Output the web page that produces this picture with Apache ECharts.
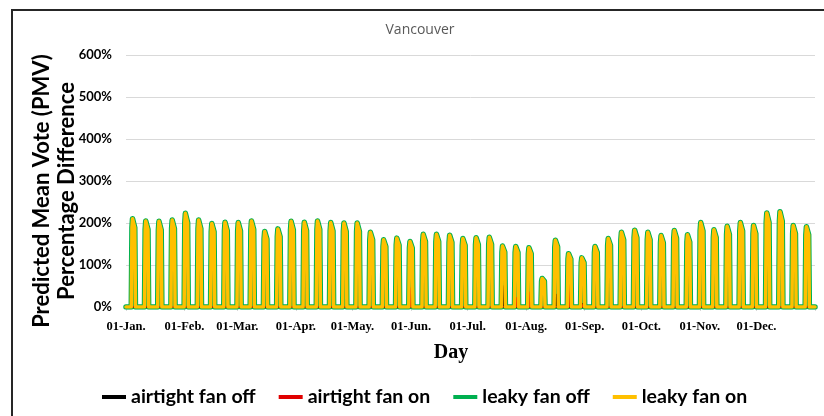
<!DOCTYPE html>
<html>
<head>
<meta charset="utf-8">
<script src="https://cdn.jsdelivr.net/npm/echarts@6/dist/echarts.min.js"></script>
<style>
  html, body { margin: 0; padding: 0; background: #fff; }
  #chart { width: 824px; height: 416px; }
</style>
</head>
<body>
<div id="chart"></div>
<script>
// Month tick labels and the day of year each month starts on
const monthLabels = ['01-Jan.', '01-Feb.', '01-Mar.', '01-Apr.', '01-May.', '01-Jun.',
                     '01-Jul.', '01-Aug.', '01-Sep.', '01-Oct.', '01-Nov.', '01-Dec.'];
const monthStartDays = [0, 31, 59, 90, 120, 151, 181, 212, 243, 273, 304, 334];
const yearDays = 365;

// Centre day of each weekly peak
const peakDays = [3.9, 10.9, 17.9, 24.9, 31.9, 38.9, 45.9, 52.9, 59.9, 66.9,
                  73.9, 80.9, 87.9, 94.9, 101.9, 108.9, 115.9, 122.9, 129.9, 136.9,
                  143.9, 150.9, 157.9, 164.9, 171.9, 178.9, 185.9, 192.9, 199.9, 206.9,
                  213.9, 220.9, 227.9, 234.9, 241.9, 248.9, 255.9, 262.9, 269.9, 276.9,
                  283.9, 290.9, 297.9, 304.9, 311.9, 318.9, 325.9, 332.9, 339.9, 346.9,
                  353.9, 360.9];

// Weekly peak PMV percentage difference (%) for each case
const leakyFanOn = [210, 205, 204, 207, 223, 207, 199, 202, 201, 205,
                    180, 186, 204, 202, 205, 201, 200, 200, 178, 160,
                    164, 156, 173, 173, 171, 163, 165, 166, 145, 144,
                    141, 68, 159, 127, 117, 144, 163, 178, 183, 178,
                    170, 182, 172, 201, 184, 192, 201, 194, 224, 227,
                    194, 191];
const leakyFanOff = [210, 205, 204, 207, 223, 207, 199, 202, 201, 205,
                     180, 186, 204, 202, 205, 201, 200, 200, 178, 160,
                     164, 156, 173, 173, 171, 163, 165, 166, 145, 144,
                     141, 68, 159, 127, 117, 144, 163, 178, 183, 178,
                     170, 182, 172, 201, 184, 192, 201, 194, 224, 227,
                     194, 191];
const airtightFanOn = [0, 0, 0, 0, 0, 0, 0, 0, 0, 0,
                       0, 0, 0, 0, 0, 0, 0, 0, 0, 0,
                       0, 45, 0, 0, 0, 0, 0, 0, 0, 22,
                       35, 0, 0, 55, 5, 0, 0, 0, 0, 0,
                       0, 0, 0, 0, 0, 0, 0, 0, 0, 0,
                       0, 0];
const airtightFanOff = [0, 0, 0, 0, 0, 0, 0, 0, 0, 0,
                        0, 0, 0, 0, 0, 0, 0, 0, 0, 0,
                        0, 20, 0, 0, 0, 0, 0, 0, 50, 0,
                        8, 0, 30, 10, 8, 0, 0, 0, 0, 0,
                        0, 0, 0, 0, 0, 0, 0, 0, 0, 0,
                        0, 0];

// Profile of one occupied-period peak: [day offset from centre, fraction of peak]
const wideProfile = [[-1.1, 0], [-0.75, 0.9], [-0.45, 1], [0.45, 1], [0.75, 0.9], [1.1, 0]];
const narrowProfile = [[-0.25, 0], [0, 1], [0.25, 0]];

function buildLine(peaks, profile) {
  const pts = [[0, 0]];
  peaks.forEach((h, i) => {
    const c = peakDays[i];
    profile.forEach(([dx, f]) => pts.push([c + dx, h * f]));
  });
  pts.push([yearDays, 0]);
  return pts;
}

const chart = echarts.init(document.getElementById('chart'), null, { renderer: 'canvas' });

const baseLine = (name, color, width, z, data) => ({
  name, type: 'line', data, z,
  showSymbol: false, symbol: 'none', smooth: false, animation: false,
  lineStyle: { color, width, join: 'round', cap: 'round' },
  itemStyle: { color },
  emphasis: { disabled: true }
});

chart.setOption({
  animation: false,
  backgroundColor: '#fff',
  grid: { left: 126, right: 9, top: 55, bottom: 109, containLabel: false },
  legend: {
    data: ['airtight fan off', 'airtight fan on', 'leaky fan off', 'leaky fan on'],
    left: 97, top: 382,
    icon: 'rect', itemWidth: 24, itemHeight: 4, itemGap: 23,
    textStyle: { fontFamily: 'Lato', fontWeight: 'bold', fontSize: 19.5, color: '#000' }
  },
  xAxis: {
    type: 'value', min: 0, max: yearDays,
    axisLine: { show: true, lineStyle: { color: '#d9d9d9', width: 1 } },
    axisTick: { show: true, customValues: monthStartDays.concat([yearDays]), length: 4,
                lineStyle: { color: '#d9d9d9' } },
    axisLabel: {
      customValues: monthStartDays,
      formatter: v => monthLabels[monthStartDays.indexOf(v)] || '',
      fontFamily: 'Liberation Serif', fontWeight: 'bold', fontSize: 12.5, color: '#000', margin: 13
    },
    splitLine: { show: false }
  },
  yAxis: {
    type: 'value', min: 0, max: 600, interval: 100,
    axisLine: { show: false }, axisTick: { show: false },
    axisLabel: { formatter: '{value}%', fontFamily: 'Lato', fontWeight: 'bold',
                 fontSize: 13, color: '#000', margin: 14 },
    splitLine: { lineStyle: { color: '#d9d9d9', width: 1 } }
  },
  graphic: [
    { type: 'rect', shape: { x: 12, y: 10, width: 840, height: 440 },
      style: { fill: 'none', stroke: '#262626', lineWidth: 2 }, silent: true },
    { type: 'text', x: 420, y: 30,
      style: { text: 'Vancouver', align: 'center', verticalAlign: 'middle',
               font: '14px "Open Sans"', fill: '#595959' } },
    { type: 'text', x: 42, y: 191, rotation: Math.PI / 2,
      style: { text: 'Predicted Mean Vote (PMV)', align: 'center', verticalAlign: 'middle',
               font: 'bold 22px Lato', fill: '#000' } },
    { type: 'text', x: 67, y: 191, rotation: Math.PI / 2,
      style: { text: 'Percentage Difference', align: 'center', verticalAlign: 'middle',
               font: 'bold 22px Lato', fill: '#000' } },
    { type: 'text', x: 451, y: 353,
      style: { text: 'Day', align: 'center', verticalAlign: 'middle',
               font: 'bold 20px "Liberation Serif"', fill: '#000' } }
  ],
  series: [
    baseLine('leaky fan off', '#00B050', 5.5, 1, buildLine(leakyFanOff, wideProfile)),
    baseLine('airtight fan off', '#000000', 1.5, 2, buildLine(airtightFanOff, narrowProfile)),
    baseLine('airtight fan on', '#E00000', 1.5, 3, buildLine(airtightFanOn, narrowProfile)),
    baseLine('leaky fan on', '#FFC000', 3.5, 4, buildLine(leakyFanOn, wideProfile))
  ]
});
</script>
</body>
</html>
